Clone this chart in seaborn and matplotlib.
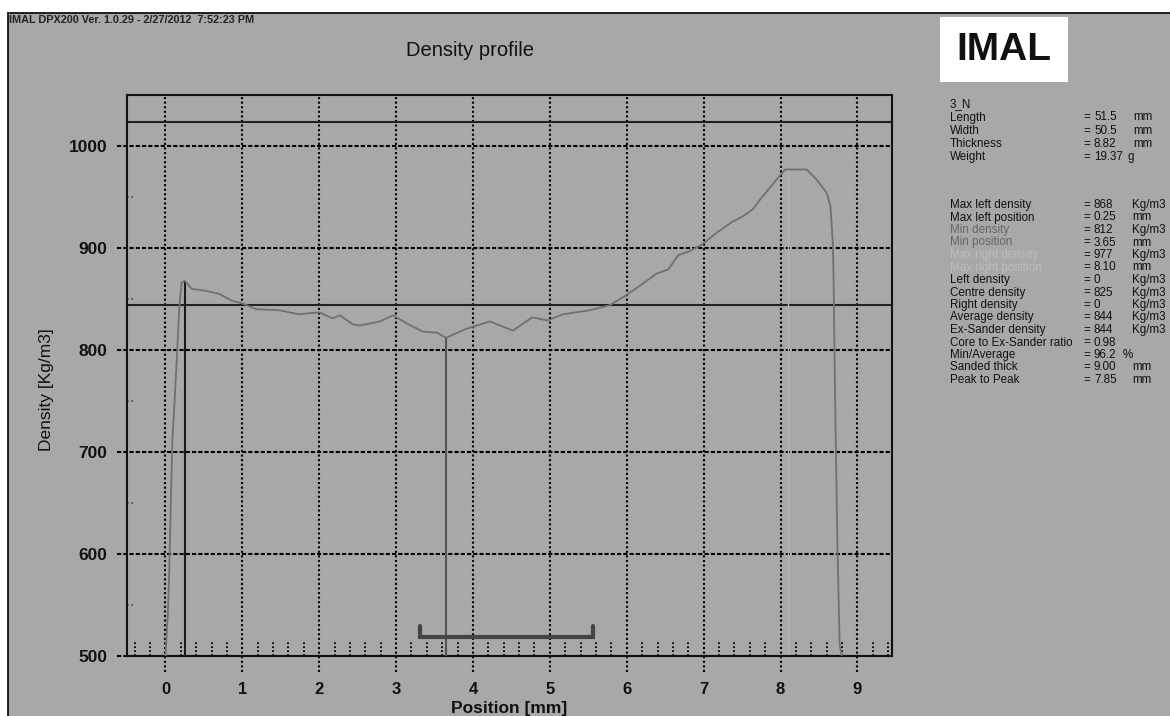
import numpy as np
import pandas as pd
import matplotlib
matplotlib.use("Agg")
import matplotlib.pyplot as plt
import seaborn as sns
from matplotlib.patches import Rectangle
from matplotlib.lines import Line2D

# ---------------- data ----------------
position = [0.00, 0.03, 0.05, 0.07, 0.09, 0.12, 0.16, 0.18, 0.21, 0.25,
            0.34, 0.53, 0.70, 0.87, 0.99, 1.18, 1.48, 1.74, 2.00, 2.17,
            2.27, 2.44, 2.53, 2.79, 2.96, 3.14, 3.35, 3.53, 3.65, 3.92,
            4.22, 4.52, 4.77, 4.97, 5.17, 5.52, 5.78, 5.98, 6.17, 6.39,
            6.54, 6.67, 6.82, 6.99, 7.17, 7.38, 7.51, 7.64, 7.76, 7.86,
            7.97, 8.06, 8.34, 8.47, 8.60, 8.65, 8.68, 8.69, 8.71, 8.74,
            8.77, 8.80]
density = [500, 540, 585, 650, 712, 751, 810, 842, 866, 868,
           860, 858, 855, 848, 846, 840, 839, 835, 837, 831,
           834, 825, 824, 828, 834, 826, 818, 817, 812, 821,
           828, 819, 832, 829, 835, 839, 844, 853, 863, 875,
           879, 893, 897, 904, 915, 926, 931, 938, 950, 959,
           969, 977, 977, 967, 954, 941, 905, 872, 753, 609,
           510, 500]

x_ticks = [0, 1, 2, 3, 4, 5, 6, 7, 8, 9]
y_ticks = [500, 600, 700, 800, 900, 1000]
x_limits = (-0.5, 9.45)
y_limits = (500, 1050)

upper_reference = 1024
average_density = 844
max_left_pos, max_left_density = 0.25, 868
min_pos, min_density = 3.65, 812
max_right_pos, max_right_density = 8.10, 977
bracket_start, bracket_end = 3.31, 5.56
bracket_level, bracket_cap = 519, 529

header_text = "IMAL DPX200 Ver. 1.0.29 - 2/27/2012  7:52:23 PM"
title_text = "Density profile"
x_label = "Position [mm]"
y_label = "Density [Kg/m3]"
sample_name = "3_N"

info_labels_1 = ["Length", "Width", "Thickness", "Weight"]
info_values_1 = ["51.5", "50.5", "8.82", "19.37"]
info_units_1 = ["mm", "mm", "mm", "g"]

info_labels_2 = ["Max left density", "Max left position", "Min density", "Min position",
                 "Max right density", "Max right position", "Left density", "Centre density",
                 "Right density", "Average density", "Ex-Sander density",
                 "Core to Ex-Sander ratio", "Min/Average", "Sanded thick", "Peak to Peak"]
info_values_2 = ["868", "0.25", "812", "3.65", "977", "8.10", "0", "825", "0",
                 "844", "844", "0.98", "96.2", "9.00", "7.85"]
info_units_2 = ["Kg/m3", "mm", "Kg/m3", "mm", "Kg/m3", "mm", "Kg/m3", "Kg/m3",
                "Kg/m3", "Kg/m3", "Kg/m3", "", "%", "mm", "mm"]
info_shade_2 = ["#111111", "#111111", "#666666", "#666666", "#bdbdbd", "#bdbdbd",
                "#111111", "#111111", "#111111", "#111111", "#111111", "#111111",
                "#111111", "#111111", "#111111"]

# ---------------- style ----------------
sns.set_theme(style="white")
plt.rcParams['font.family'] = ['Liberation Sans', 'DejaVu Sans']

W, H = 1170, 716
BG = "#a8a8a8"

def fx(px):
    return px / W

def fy(py):
    return 1 - py / H

fig = plt.figure(figsize=(W / 100, H / 100), dpi=100, facecolor="white")
fig.patches.append(Rectangle((fx(8), 0), 1, fy(13), transform=fig.transFigure,
                             facecolor=BG, edgecolor="none", zorder=-10))
fig.lines.append(Line2D([fx(8), 1], [fy(13), fy(13)], transform=fig.transFigure,
                        color="black", lw=1.2))
fig.lines.append(Line2D([fx(8), fx(8)], [0, fy(13)], transform=fig.transFigure,
                        color="black", lw=1.2))

ax = fig.add_axes([fx(127), fy(656), fx(892) - fx(127), fy(95) - fy(656)])
ax.set_facecolor(BG)
ax.set_xlim(*x_limits)
ax.set_ylim(*y_limits)
for s in ax.spines.values():
    s.set_color("#111111")
    s.set_linewidth(1.5)

# grid lines extending outside the axes
ax.vlines(x_ticks, y_limits[0] - 16, y_limits[1], colors="black", lw=1.5,
          linestyles=(0, (1, 1.2)), clip_on=False, zorder=1)
ax.hlines(y_ticks, x_limits[0] - 0.13, x_limits[1], colors="black", lw=1.5,
          linestyles=(0, (2, 1)), clip_on=False, zorder=1)

# minor dotted ticks at the bottom
minor_x = [v for v in np.round(np.arange(-0.4, 9.41, 0.2), 1) if abs(v - round(v)) > 1e-6]
ax.vlines(minor_x, y_limits[0], y_limits[0] + 15, colors="black", lw=1.3,
          linestyles=(0, (1, 1.2)), zorder=1)
ax.hlines([950, 850, 750, 650, 550], x_limits[0], x_limits[0] + 0.08, colors="#444444",
          lw=1.2, linestyles=(0, (1, 1.5)), zorder=1)

# reference lines
ax.axhline(upper_reference, color="#222222", lw=1.5, zorder=2)
ax.axhline(average_density, color="#222222", lw=1.5, zorder=2)
ax.vlines([max_right_pos], y_limits[0], max_right_density, colors="#b4b4b4", lw=1.0, zorder=2)
ax.vlines([max_left_pos], y_limits[0], max_left_density, colors="#1a1a1a", lw=1.5, zorder=3)
ax.vlines([min_pos], y_limits[0], min_density, colors="#555555", lw=1.5, zorder=3)

# sanded-zone bracket
ax.plot([bracket_start, bracket_start, bracket_end, bracket_end],
        [bracket_cap, bracket_level, bracket_level, bracket_cap],
        color="#444444", lw=3, solid_joinstyle="miter", zorder=3)

# density profile
df = pd.DataFrame({"Position": position, "Density": density})
sns.lineplot(data=df, x="Position", y="Density", ax=ax, color="#707070", lw=1.3,
             estimator=None, sort=False, zorder=4)

ax.set_xticks(x_ticks)
ax.set_yticks(y_ticks)
ax.set_xticklabels([str(v) for v in x_ticks], fontsize=12, fontweight="bold", color="#111111")
ax.set_yticklabels([str(v) for v in y_ticks], fontsize=12.5, fontweight="bold", color="#111111")
ax.tick_params(axis="x", length=0, pad=19)
ax.tick_params(axis="y", length=0, pad=14)
ax.set_xlabel("")
ax.set_ylabel("")

fig.text(fx(509), fy(708), x_label, ha="center", va="center", fontsize=12.5,
         fontweight="bold", color="#111111")
fig.text(fx(46), fy(390), y_label, ha="center", va="center", rotation=90,
         fontsize=12.5, color="#111111")
fig.text(fx(470), fy(50), title_text, ha="center", va="center", fontsize=14.5, color="#111111")
fig.text(fx(9), fy(20), header_text, ha="left", va="center", fontsize=7.8,
         fontweight="bold", color="#222222")

# logo
fig.patches.append(Rectangle((fx(940), fy(82)), fx(128), 65 / H, transform=fig.transFigure,
                             facecolor="white", edgecolor="none", zorder=1))
fig.text(fx(1004), fy(50), "IMAL", ha="center", va="center", fontsize=28,
         fontweight="heavy", color="#111111", zorder=2)

# info panel
fs = 8.4
fig.text(fx(950), fy(104), sample_name, ha="left", va="center", fontsize=fs, color="#111111")
for i, (lab, val, unit) in enumerate(zip(info_labels_1, info_values_1, info_units_1)):
    y = 117.5 + i * 13.2
    fig.text(fx(950), fy(y), lab, ha="left", va="center", fontsize=fs, color="#111111")
    fig.text(fx(1083), fy(y), "=", ha="left", va="center", fontsize=fs, color="#111111")
    fig.text(fx(1094), fy(y), val, ha="left", va="center", fontsize=fs, color="#111111")
    fig.text(fx(1133) if unit != "g" else fx(1128), fy(y), unit, ha="left", va="center",
             fontsize=fs, color="#111111")
for i, (lab, val, unit, c) in enumerate(zip(info_labels_2, info_values_2, info_units_2, info_shade_2)):
    y = 205 + i * 12.5
    fig.text(fx(950), fy(y), lab, ha="left", va="center", fontsize=fs, color=c)
    fig.text(fx(1083), fy(y), "=", ha="left", va="center", fontsize=fs, color="#111111")
    fig.text(fx(1094), fy(y), val, ha="left", va="center", fontsize=fs, color="#111111")
    if unit:
        ux = fx(1132) if unit != "%" else fx(1123)
        fig.text(ux, fy(y), unit, ha="left", va="center", fontsize=fs, color="#111111")

fig.savefig("out.png", dpi=100, facecolor=fig.get_facecolor())
